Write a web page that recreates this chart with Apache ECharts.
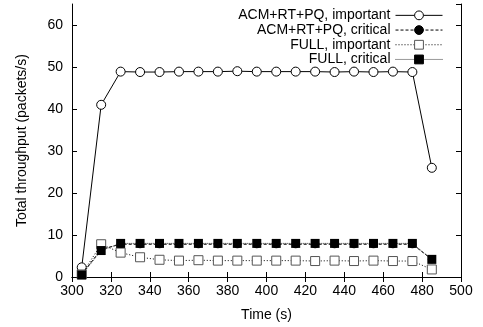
<!DOCTYPE html>
<html>
<head>
<meta charset="utf-8">
<script src="https://cdn.jsdelivr.net/npm/echarts@6/dist/echarts.min.js"></script>
<style>
  html, body { margin: 0; padding: 0; background: #fff; }
  #chart { width: 483px; height: 327px; }
</style>
</head>
<body>
<div id="chart"></div>
<script>
const times = [305, 315, 325, 335, 345, 355, 365, 375, 385, 395, 405, 415, 425, 435, 445, 455, 465, 475, 485];
const acmImportant = [2.3, 41, 48.9, 48.8, 48.8, 48.9, 48.9, 48.9, 49, 48.9, 48.9, 48.9, 48.9, 48.8, 48.9, 48.8, 48.9, 48.8, 26];
const acmCritical = [0.6, 6.6, 7.8, 7.8, 7.8, 7.8, 7.8, 7.8, 7.8, 7.8, 7.8, 7.8, 7.8, 7.8, 7.8, 7.8, 7.8, 7.8, 4.2];
const fullImportant = [0.6, 7.8, 5.8, 4.7, 4.1, 3.9, 4.0, 3.9, 3.9, 3.9, 3.9, 3.9, 3.8, 3.9, 3.8, 3.9, 3.8, 3.8, 1.8];
const fullCritical = [0.5, 6.3, 8, 8, 8, 8, 8, 8, 8, 8, 8, 8, 8, 8, 8, 8, 8, 8, 4.2];
const seriesNames = ["ACM+RT+PQ, important", "ACM+RT+PQ, critical", "FULL, important", "FULL, critical"];

const pairs = (ys) => times.map((t, i) => [t, ys[i]]);
const font = "Liberation Sans, Arial, sans-serif";

const chart = echarts.init(document.getElementById("chart"));

const axisCommon = {
  axisLine: { show: true, lineStyle: { color: "#000", width: 1 } },
  axisTick: { inside: true, length: 5, lineStyle: { color: "#000" } },
  splitLine: { show: false }
};

const option = {
  animation: false,
  grid: { left: 72, right: 22, top: 4, bottom: 49 },
  legend: {
    orient: "vertical",
    right: 40,
    top: 8,
    padding: 0,
    align: "right",
    itemWidth: 47,
    itemHeight: 11,
    itemGap: 0,
    lineStyle: { width: 1 },
    itemStyle: { borderWidth: 1 },
    textStyle: { fontFamily: font, fontSize: 14, lineHeight: 14.7, color: "#000" },
    data: seriesNames
  },
  xAxis: [
    Object.assign({
      type: "value", min: 300, max: 500, interval: 20,
      name: "Time (s)", nameLocation: "middle", nameGap: 31,
      nameTextStyle: { fontFamily: font, fontSize: 14, color: "#000" },
      axisLabel: { fontFamily: font, fontSize: 14, color: "#000", margin: 7 }
    }, axisCommon),
    Object.assign({
      type: "value", min: 300, max: 500, interval: 20, position: "top",
      axisLabel: { show: false }
    }, axisCommon)
  ],
  yAxis: [
    Object.assign({
      type: "value", min: 0, max: 65, interval: 10,
      name: "Total throughput (packets/s)", nameLocation: "middle", nameGap: 43,
      nameTextStyle: { fontFamily: font, fontSize: 14, color: "#000" },
      axisLabel: {
        fontFamily: font, fontSize: 14, color: "#000", margin: 9,
        showMaxLabel: false,
        formatter: (v) => (v % 10 === 0 ? String(v) : "")
      }
    }, axisCommon),
    Object.assign({
      type: "value", min: 0, max: 65, interval: 10, position: "right",
      axisLabel: { show: false }
    }, axisCommon)
  ],
  series: [
    {
      name: seriesNames[0], type: "line", data: pairs(acmImportant),
      symbol: "circle", symbolSize: 9,
      itemStyle: { color: "#fff", borderColor: "#000", borderWidth: 1 },
      lineStyle: { color: "#000", width: 1, type: "solid" },
      z: 2
    },
    {
      name: seriesNames[1], type: "line", data: pairs(acmCritical),
      symbol: "circle", symbolSize: 8,
      itemStyle: { color: "#000", borderColor: "#000", borderWidth: 0 },
      lineStyle: { color: "#000", width: 1, type: [3, 2] },
      z: 3
    },
    {
      name: seriesNames[2], type: "line", data: pairs(fullImportant),
      symbol: "rect", symbolSize: 9,
      itemStyle: { color: "#fff", borderColor: "#555", borderWidth: 1 },
      lineStyle: { color: "#000", width: 1, type: [1, 2] },
      z: 4
    },
    {
      name: seriesNames[3], type: "line", data: pairs(fullCritical),
      symbol: "rect", symbolSize: 9,
      itemStyle: { color: "#000", borderColor: "#000", borderWidth: 0 },
      lineStyle: { color: "#333", width: 1, type: [1, 1] },
      z: 5
    }
  ]
};

chart.setOption(option);
</script>
</body>
</html>
